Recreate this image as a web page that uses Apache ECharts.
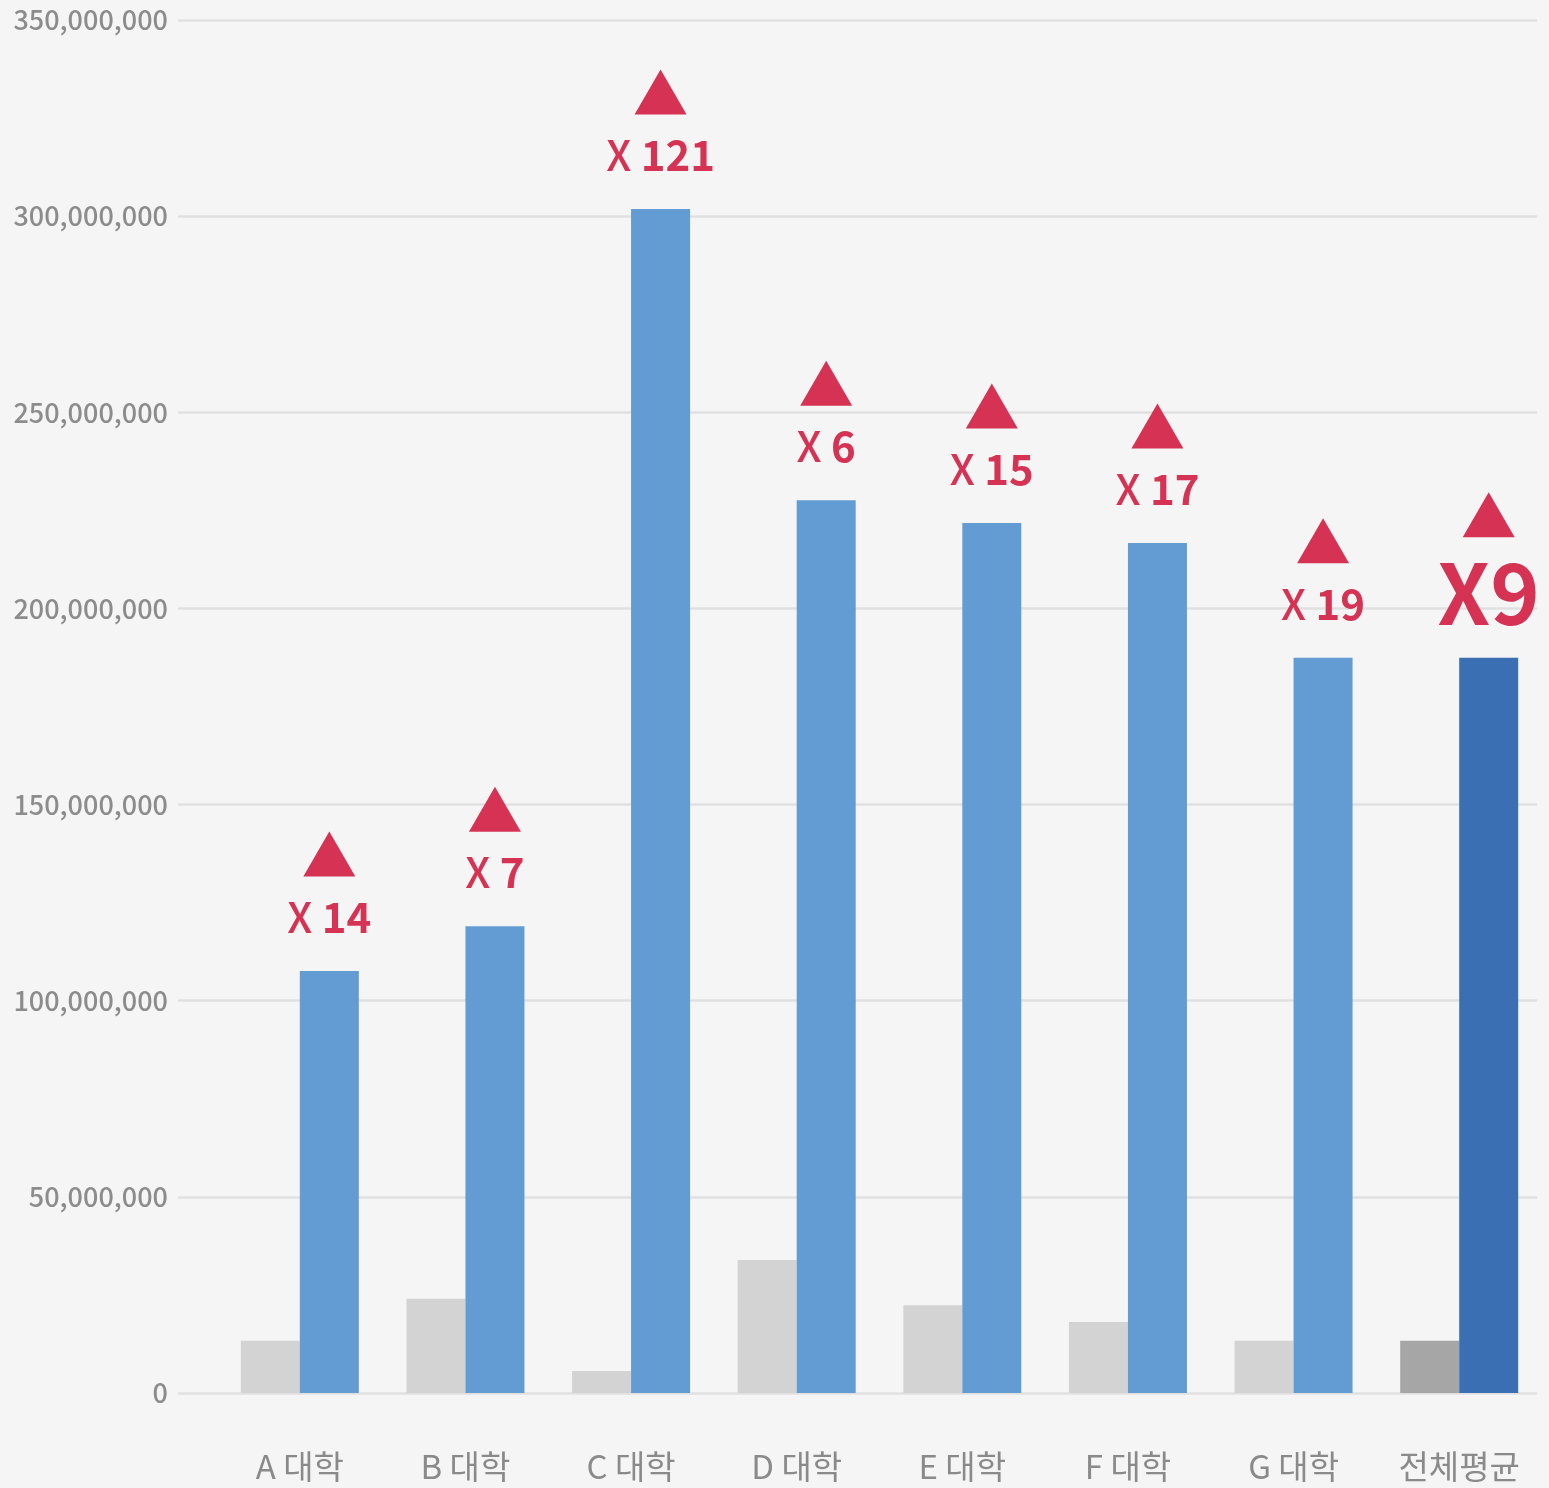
<!DOCTYPE html>
<html>
<head>
<meta charset="utf-8">
<script src="https://cdn.jsdelivr.net/npm/echarts@6/dist/echarts.min.js"></script>
<style>
  html, body { margin: 0; padding: 0; background: #f5f5f5; }
  #chart { width: 1549px; height: 1488px; }
</style>
</head>
<body>
<div id="chart"></div>
<script>
// 대학별 비교 데이터
var categories = ['A 대학', 'B 대학', 'C 대학', 'D 대학', 'E 대학', 'F 대학', 'G 대학', '전체평균'];
var grayValues = [13300000, 24000000, 5600000, 33900000, 22400000, 18100000, 13300000, 13300000];
var blueValues = [107600000, 119000000, 301800000, 227600000, 221800000, 216700000, 187400000, 187400000];
var multipliers = [14, 7, 121, 6, 15, 17, 19, 9];
var yTicks = { min: 0, max: 350000000, interval: 50000000 };

var RED = '#d63354';
var FONT = '"Noto Sans CJK KR", "Noto Sans", sans-serif';
var lastIdx = categories.length - 1;

var chart = echarts.init(document.getElementById('chart'));

var grayData = grayValues.map(function (v, i) {
    return {
        value: v,
        itemStyle: { color: i === lastIdx ? '#a6a6a6' : '#d3d3d3' }
    };
});

var blueData = blueValues.map(function (v, i) {
    var item = {
        value: v,
        itemStyle: { color: i === lastIdx ? '#3a70b3' : '#629cd3' }
    };
    if (i === lastIdx) {
        item.label = {
            formatter: '{big|X' + multipliers[i] + '}',
            distance: 23
        };
    }
    return item;
});

// 빨간 삼각형
var triData = blueValues.map(function (v, i) {
    return {
        value: v,
        symbolOffset: [29.5, i === lastIdx ? -143 : -117]
    };
});

var option = {
    backgroundColor: '#f5f5f5',
    animation: false,
    grid: [
        { left: 178, right: 12, top: 20, bottom: 95 },   // 눈금선 + y축 라벨
        { left: 217, right: 7, top: 20, bottom: 95 }     // 막대
    ],
    xAxis: [
        { type: 'value', gridIndex: 0, show: false, min: 0, max: 1 },
        {
            type: 'category',
            gridIndex: 1,
            data: categories,
            boundaryGap: true,
            axisLine: { show: false },
            axisTick: { show: false },
            axisLabel: {
                color: '#8a8a8a',
                fontSize: 33,
                fontFamily: FONT,
                margin: 57
            }
        }
    ],
    yAxis: [
        {
            type: 'value',
            gridIndex: 0,
            min: yTicks.min,
            max: yTicks.max,
            interval: yTicks.interval,
            axisLine: { show: false },
            axisTick: { show: false },
            splitLine: { lineStyle: { color: '#e0e0e0', width: 2.5 } },
            axisLabel: {
                color: '#8c8c8c',
                fontSize: 27,
                fontWeight: 500,
                fontFamily: FONT,
                margin: 10,
                formatter: function (v) { return v.toLocaleString('en-US'); }
            }
        },
        {
            type: 'value',
            gridIndex: 1,
            min: yTicks.min,
            max: yTicks.max,
            interval: yTicks.interval,
            show: false
        }
    ],
    series: [
        {
            type: 'bar',
            xAxisIndex: 1,
            yAxisIndex: 1,
            barWidth: 59,
            barGap: '0%',
            data: grayData
        },
        {
            type: 'bar',
            xAxisIndex: 1,
            yAxisIndex: 1,
            barWidth: 59,
            barGap: '0%',
            data: blueData,
            label: {
                show: true,
                position: 'top',
                distance: 33,
                formatter: function (p) {
                    return '{x|X }{n|' + multipliers[p.dataIndex] + '}';
                },
                rich: {
                    x: { color: RED, fontSize: 42, fontWeight: 500, fontFamily: FONT },
                    n: { color: RED, fontSize: 42, fontWeight: 'bold', fontFamily: FONT },
                    big: { color: RED, fontSize: 84, fontWeight: 'bold', fontFamily: FONT }
                }
            }
        },
        {
            type: 'scatter',
            xAxisIndex: 1,
            yAxisIndex: 1,
            symbol: 'triangle',
            symbolSize: [52, 45],
            itemStyle: { color: RED, opacity: 1 },
            data: triData,
            z: 5
        }
    ]
};

chart.setOption(option);
</script>
</body>
</html>
